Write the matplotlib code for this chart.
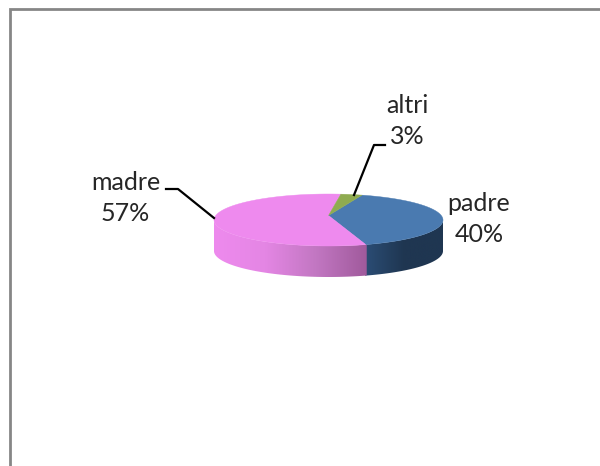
import matplotlib
matplotlib.use('Agg')
import matplotlib.pyplot as plt
from matplotlib.colors import LinearSegmentedColormap
from matplotlib.patches import Polygon
import numpy as np

# slices, clockwise from the top boundary of padre
labels = ['padre', 'madre', 'altri']
values = [40, 57, 3]
colors = ['#4a7ab0', '#ee8aee', '#8fab50']
wall_colors = [['#2b4d75', '#1f3651', '#1f3651'], ['#ee8aee', '#e486e4', '#c277c2', '#a05a9c'], ['#8fab50', '#8fab50']]

W, H = 600, 466
cx, cy = 328.5, 220
rx, ry = 114.5, 26
depth = 31
start = 73
apex_up = 4.5

plt.rcParams['font.family'] = ['Lato', 'DejaVu Sans']

fig = plt.figure(figsize=(W / 100, H / 100), dpi=100)

# pixel axes for the frame, labels and leader lines
ax_px = fig.add_axes([0, 0, 1, 1])
ax_px.set_xlim(0, W)
ax_px.set_ylim(H, 0)
ax_px.axis('off')
ax_px.plot([9.5, 9.5, W], [H, 8.5, 8.5], color='#868686', lw=2, solid_joinstyle='miter')

# pie axes: unit circle squashed to the ellipse
ax = fig.add_axes([0, 0, 1, 1])
wedges, _ = ax.pie(values, colors=colors, startangle=start, counterclock=False, radius=1, center=(0, 0))

# perspective puts the apex above the ellipse centre, so redraw the tops from the wedge angles
for w, c in zip(wedges, colors):
    t = np.radians(np.linspace(w.theta1, w.theta2, 120))
    top = np.column_stack([np.r_[0, np.cos(t)], np.r_[apex_up / ry, np.sin(t)]])
    ax.add_patch(Polygon(top, closed=True, fc=c, ec=c, lw=0.3, zorder=2))
    w.set_visible(False)

# side wall, only the front half of the ellipse shows
dy = depth / ry
for w, wc in zip(wedges, wall_colors):
    a1, a2 = w.theta1 % 360, w.theta2 % 360
    if a2 <= a1:
        a2 += 360
    t1, t2 = max(a1, 180), min(a2, 360)
    if t2 <= t1:
        t1, t2 = max(a1 - 360, 180), min(a2 - 360, 360)
    if t2 <= t1:
        continue
    # small overlap hides the seam between the two gradients
    t = np.radians(np.linspace(t1 - 0.5, t2 + 0.5, 80))
    x, y = np.cos(t), np.sin(t)
    pts = np.column_stack([np.r_[x, x[::-1]], np.r_[y, y[::-1] - dy]])
    poly = Polygon(pts, closed=True, transform=ax.transData, fc='none', ec='none')
    ax.add_patch(poly)
    cmap = LinearSegmentedColormap.from_list('wall', wc)
    grad = np.linspace(0, 1, 256).reshape(1, -1)
    im = ax.imshow(grad, cmap=cmap, aspect='auto', zorder=0.5,
                   extent=[x.min(), x.max(), y.min() - dy, y.max()])
    im.set_clip_path(poly)
ax.set_aspect('auto')
ax.set_xlim(-cx / rx, (W - cx) / rx)
ax.set_ylim(-(H - cy) / ry, cy / ry)
ax.axis('off')

# leader lines
ax_px.set_zorder(2)
ax_px.plot([166, 178, 214], [189, 189, 218], color='black', lw=1.6)
ax_px.plot([385, 374, 354], [145, 145, 195], color='black', lw=1.6)

positions = {'padre': (479, 219), 'madre': (125.5, 198), 'altri': (407, 121)}
for name, v in zip(labels, values):
    px, py = positions[name]
    ax_px.text(px, py, f'{name}\n{v}%', ha='center', va='center', fontsize=18,
               color='#262626', linespacing=1.4)

fig.savefig('out.png', dpi=100)
